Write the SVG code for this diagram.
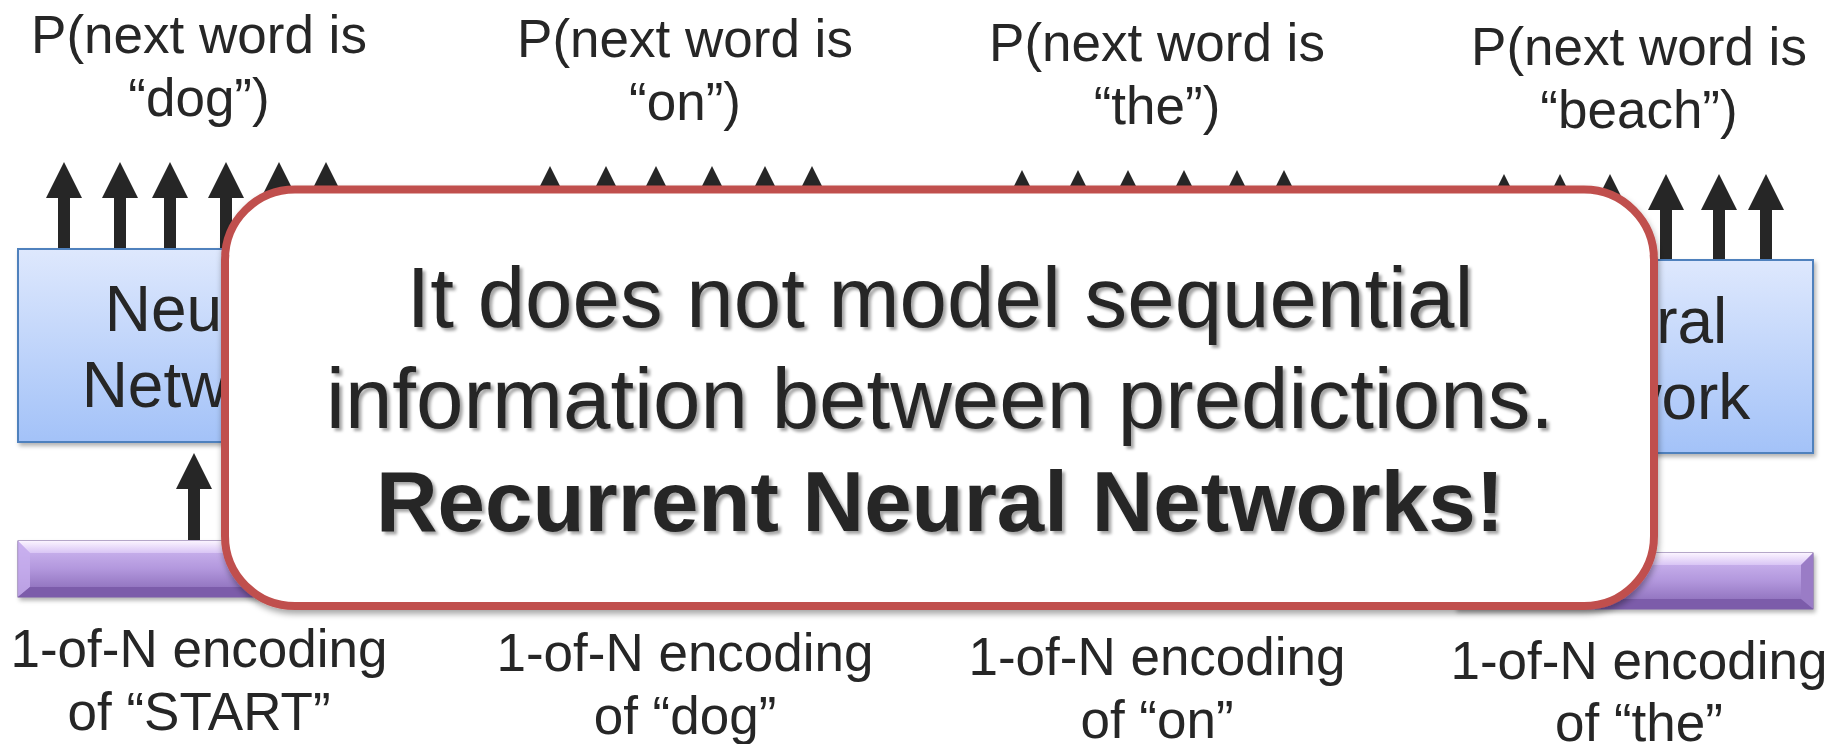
<svg xmlns="http://www.w3.org/2000/svg" width="1829" height="744" viewBox="0 0 1829 744">
  <defs>
    <style>
      .lbl { font-family: "Liberation Sans", Arial, sans-serif; font-size: 53px; fill: #262626; text-anchor: middle; }
      .nn { font-family: "Liberation Sans", Arial, sans-serif; font-size: 64px; fill: #262626; text-anchor: middle; }
      .msg { font-family: "Liberation Sans", Arial, sans-serif; font-size: 85.3px; fill: #262626; text-anchor: middle; }
      .msg-b { font-weight: bold; }
      .box { fill: url(#boxFill); stroke: #4F81BD; stroke-width: 2; }
      .arrow { stroke: #262626; stroke-width: 12; fill: none; marker-end: url(#head); }
      .bar-main { fill: url(#barFill); stroke: #6E5396; stroke-width: 1; }
    </style>
    <linearGradient id="boxFill" x1="0" y1="0" x2="0" y2="1">
      <stop offset="0" stop-color="#DEE8FD"/>
      <stop offset="1" stop-color="#A3C2F8"/>
    </linearGradient>
    <linearGradient id="barFill" x1="0" y1="0" x2="0" y2="1">
      <stop offset="0" stop-color="#D2BCF3"/>
      <stop offset="0.5" stop-color="#B297DD"/>
      <stop offset="1" stop-color="#8465B3"/>
    </linearGradient>
    <linearGradient id="barTop" x1="0" y1="0" x2="0" y2="1">
      <stop offset="0" stop-color="#FBF4FF"/>
      <stop offset="1" stop-color="#D9C5F5"/>
    </linearGradient>
    <marker id="head" viewBox="0 0 36 36" markerWidth="36" markerHeight="36" refX="2" refY="18" orient="auto" markerUnits="userSpaceOnUse">
      <path d="M0,0 L36,18 L0,36 Z" fill="#262626"/>
    </marker>
    <filter id="softShadow" x="-10%" y="-10%" width="120%" height="130%">
      <feDropShadow dx="2" dy="3" stdDeviation="2" flood-color="#000" flood-opacity="0.3"/>
    </filter>
    <filter id="calloutShadow" x="-5%" y="-5%" width="110%" height="115%">
      <feDropShadow dx="1" dy="4" stdDeviation="3" flood-color="#000" flood-opacity="0.35"/>
    </filter>
    <filter id="textShadow" x="-5%" y="-20%" width="110%" height="150%">
      <feDropShadow dx="3" dy="3" stdDeviation="1.5" flood-color="#000" flood-opacity="0.35"/>
    </filter>
  </defs>

  <rect width="1829" height="744" fill="#FFFFFF"/>

  <!-- output labels -->
  <g id="out-dog">
    <text class="lbl" x="199" y="53">P(next word is</text>
    <text class="lbl" x="199" y="116">“dog”)</text>
  </g>
  <g id="out-on">
    <text class="lbl" x="685" y="57">P(next word is</text>
    <text class="lbl" x="685" y="120">“on”)</text>
  </g>
  <g id="out-the">
    <text class="lbl" x="1157" y="61">P(next word is</text>
    <text class="lbl" x="1157" y="124">“the”)</text>
  </g>
  <g id="out-beach">
    <text class="lbl" x="1639" y="65">P(next word is</text>
    <text class="lbl" x="1639" y="128">“beach”)</text>
  </g>

  <!-- arrows between inputs, networks and outputs -->
  <g id="connectors">
    <line class="arrow" x1="64" y1="248" x2="64" y2="196"/>
    <line class="arrow" x1="120" y1="248" x2="120" y2="196"/>
    <line class="arrow" x1="170" y1="248" x2="170" y2="196"/>
    <line class="arrow" x1="226" y1="248" x2="226" y2="196"/>
    <line class="arrow" x1="279" y1="248" x2="279" y2="196"/>
    <line class="arrow" x1="326" y1="248" x2="326" y2="196"/>

    <line class="arrow" x1="550" y1="252" x2="550" y2="200"/>
    <line class="arrow" x1="606" y1="252" x2="606" y2="200"/>
    <line class="arrow" x1="656" y1="252" x2="656" y2="200"/>
    <line class="arrow" x1="712" y1="252" x2="712" y2="200"/>
    <line class="arrow" x1="765" y1="252" x2="765" y2="200"/>
    <line class="arrow" x1="812" y1="252" x2="812" y2="200"/>

    <line class="arrow" x1="1022" y1="256" x2="1022" y2="204"/>
    <line class="arrow" x1="1078" y1="256" x2="1078" y2="204"/>
    <line class="arrow" x1="1128" y1="256" x2="1128" y2="204"/>
    <line class="arrow" x1="1184" y1="256" x2="1184" y2="204"/>
    <line class="arrow" x1="1237" y1="256" x2="1237" y2="204"/>
    <line class="arrow" x1="1284" y1="256" x2="1284" y2="204"/>

    <line class="arrow" x1="1504" y1="260" x2="1504" y2="208"/>
    <line class="arrow" x1="1560" y1="260" x2="1560" y2="208"/>
    <line class="arrow" x1="1610" y1="260" x2="1610" y2="208"/>
    <line class="arrow" x1="1666" y1="260" x2="1666" y2="208"/>
    <line class="arrow" x1="1719" y1="260" x2="1719" y2="208"/>
    <line class="arrow" x1="1766" y1="260" x2="1766" y2="208"/>

    <line class="arrow" x1="194" y1="540" x2="194" y2="487"/>
  </g>

  <!-- neural network blocks -->
  <g id="nn-1">
    <rect class="box" x="18" y="249" width="358" height="193" filter="url(#softShadow)"/>
    <text class="nn" x="199" y="331">Neural</text>
    <text class="nn" x="199" y="407">Network</text>
  </g>
  <g id="nn-4">
    <rect class="box" x="1455" y="260" width="358" height="193" filter="url(#softShadow)"/>
    <text class="nn" x="1633" y="343">Neural</text>
    <text class="nn" x="1633" y="419">Network</text>
  </g>

  <!-- 1-of-N input vectors (bevelled bars) -->
  <g id="in-start">
    <g filter="url(#softShadow)">
      <rect class="bar-main" x="18" y="541" width="358" height="56"/>
      <polygon points="18,541 376,541 364,553 30,553" fill="url(#barTop)"/>
      <polygon points="18,541 30,553 30,587 18,597" fill="#C7AEEE" opacity="0.8"/>
      <polygon points="18,597 376,597 364,587 30,587" fill="#7C5CAA"/>
    </g>
  </g>
  <g id="in-the">
    <g filter="url(#softShadow)">
      <rect class="bar-main" x="1455" y="553" width="358" height="56"/>
      <polygon points="1455,553 1813,553 1801,565 1467,565" fill="url(#barTop)"/>
      <polygon points="1813,553 1801,565 1801,599 1813,609" fill="#9A7CC6"/>
      <polygon points="1455,609 1813,609 1801,599 1467,599" fill="#7C5CAA"/>
    </g>
  </g>

  <!-- input labels -->
  <g id="lbl-start">
    <text class="lbl" x="199" y="667">1-of-N encoding</text>
    <text class="lbl" x="199" y="730">of “START”</text>
  </g>
  <g id="lbl-dog">
    <text class="lbl" x="685" y="671">1-of-N encoding</text>
    <text class="lbl" x="685" y="734">of “dog”</text>
  </g>
  <g id="lbl-on">
    <text class="lbl" x="1157" y="675">1-of-N encoding</text>
    <text class="lbl" x="1157" y="738">of “on”</text>
  </g>
  <g id="lbl-the">
    <text class="lbl" x="1639" y="679">1-of-N encoding</text>
    <text class="lbl" x="1639" y="741">of “the”</text>
  </g>

  <!-- overlay note -->
  <g id="note">
    <rect x="225" y="189.5" width="1429" height="416.5" rx="70" ry="70" fill="#FFFFFF" stroke="#C0504D" stroke-width="8" filter="url(#calloutShadow)"/>
    <g filter="url(#textShadow)">
      <text class="msg" x="940" y="327">It does not model sequential</text>
      <text class="msg" x="940" y="428">information between predictions.</text>
      <text class="msg msg-b" x="940" y="531">Recurrent Neural Networks!</text>
    </g>
  </g>
</svg>
